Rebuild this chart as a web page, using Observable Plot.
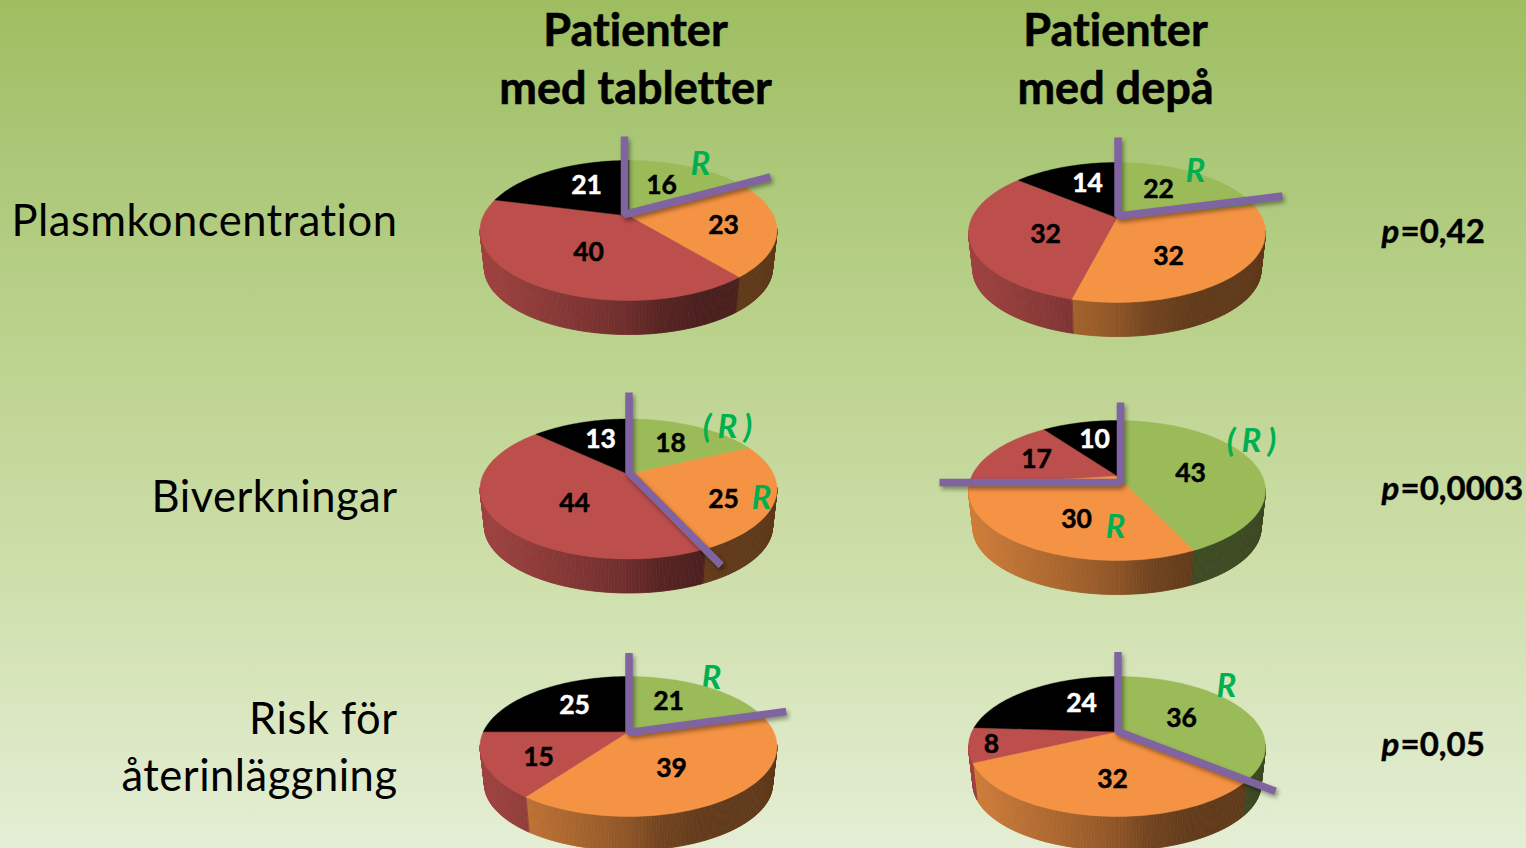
<!DOCTYPE html>
<html lang="sv">
<head>
<meta charset="utf-8">
<title>Patienter med tabletter och depå</title>
<script src="https://cdn.jsdelivr.net/npm/d3@7"></script>
<script src="https://cdn.jsdelivr.net/npm/@observablehq/plot@0.6"></script>
<style>
html,body{margin:0;padding:0;overflow:hidden;background:#d0e0ad}
.hand{filter:drop-shadow(2px 3px 2px rgba(0,0,0,.38))}
svg{display:block}
svg text{font-variant-ligatures:none;font-feature-settings:"liga" 0,"clig" 0}
.note text{letter-spacing:6px}
.rowlabel text{letter-spacing:.5px}
</style>
</head>
<body>
<div id="chart"></div>
<script>
// ---- values (percent per pie, clockwise from 12 o'clock)
const pieNames    = ["Plasm/tabletter","Plasm/depå","Bi/tabletter","Bi/depå","Risk/tabletter","Risk/depå"];
const greenValues  = [16,22,18,43,21,36];
const orangeValues = [23,32,25,30,39,32];
const redValues    = [40,32,44,17,15,8];
const blackValues  = [21,14,13,10,25,24];
const columnTitles = [["Patienter","med tabletter"],["Patienter","med depå"]];
const rowLabels    = [["Plasmkoncentration"],["Biverkningar"],["Risk för","återinläggning"]];
const pValues      = ["=0,42","=0,0003","=0,05"];

// ---- layout
const W = 1526, H = 848;
const pieCx = [628,1116.5,628,1116.5,628,1116.5];
const pieCy = [230,232,488.5,490,746,746];
const RX = 148.5, RY = 70, K = 0.21, DEPTH = 37.5, BX = 0.97, BY = 0.95;
const sliceColors = ["#9bbb59","#f59344","#bc4e4c","#000000"];

// value-label offsets from each pie's centre, same order: green, orange, red, black
const labelOffsets = [
  [[33,-46],[95,-6],[-40,21],[-42,-46]],
  [[41.5,-44],[51.5,23],[-71.5,1],[-29.5,-50]],
  [[42,-46.5],[95,9.5],[-54,13.5],[-28,-50.5]],
  [[73.5,-18],[-40.5,28],[-80.5,-32],[-22.5,-52]],
  [[40,-46],[43,21],[-90,10],[-54,-42]],
  [[64.5,-29],[-4.5,32],[-125.5,-3],[-35.5,-44]]
];
// hand-drawn purple strokes, offsets from each pie's centre
const strokeOffsets = [
  [[-4,-94],[-4,-16],[142,-53.5]],
  [[1,-95],[1,-16.5],[165.5,-36.5]],
  [[0.5,-96.5],[0.5,-16.5],[92.7,76.5]],
  [[3.5,-88],[3.5,-8],[-177.5,-8]],
  [[0.5,-93.5],[0.5,-14],[157.7,-35]],
  [[1,-94.5],[1,-15],[158.5,44.7]]
];
// hand-written green notes: pie, text, offset, behind the pie?
const notes = [
  [0,"R",72,-66,false],[1,"R",78.5,-61,false],
  [2,"(R)",99,-61.5,false],[2,"R",133,9.5,false],
  [3,"(R)",134.5,-49,false],[3,"R",-1.5,37,false],
  [4,"R",83,-68,true],[5,"R",109.5,-60,false]
];

// ---- perspective projection of a circular disc
const S = Math.sqrt(1 - K*K);
function project(i, pct, r = 1) {
  const a = pct/100*2*Math.PI, u = r*Math.sin(a), v = -r*Math.cos(a), w = 1 - K*v;
  return [pieCx[i] + RX*S*u/w, pieCy[i] + RY*((1 - K*K)*(v/w) - K)];
}
const shade = d3.scaleLinear().domain([0,.35,.5,.6,.75,1]).range([.85,.67,.58,.47,.4,.39]);
function sideColor(base, t) {
  const c = d3.rgb(base), f = shade(t);
  return d3.rgb(c.r*f, c.g*f, c.b*f).formatHex();
}

const topPts = [], sidePts = [], valueLabels = [];
pieNames.forEach((name, i) => {
  const vals = [greenValues[i], orangeValues[i], redValues[i], blackValues[i]];
  let start = 0;
  vals.forEach((val, j) => {
    const end = start + val, id = `${i}-${j}`;
    const c = project(i, 0, 0);
    topPts.push({id, x:c[0], y:c[1], c:sliceColors[j]});
    for (let p = start; p < end; p += 0.5) {
      const q = project(i, p);
      topPts.push({id, x:q[0], y:q[1], c:sliceColors[j]});
    }
    const q = project(i, end);
    topPts.push({id, x:q[0], y:q[1], c:sliceColors[j]});
    // side wall as narrow strips
    for (let p = start; p < end; p += 0.25) {
      const p2 = Math.min(end, p + 0.25);
      const A = project(i, p), B = project(i, p2);
      if (Math.max(A[1], B[1]) < pieCy[i] - 1) continue;
      const low = P => [pieCx[i] + (P[0]-pieCx[i])*BX, pieCy[i] + DEPTH + (P[1]-pieCy[i])*BY];
      const A2 = low(A), B2 = low(B);
      const t = ((A[0]+B[0])/2 - (pieCx[i]-RX)) / (2*RX);
      const col = sideColor(sliceColors[j], Math.max(0, Math.min(1, t)));
      [A,B,B2,A2].forEach(P => sidePts.push({id:`${id}-${p}`, x:P[0], y:P[1], c:col}));
    }
    valueLabels.push({
      x: pieCx[i] + labelOffsets[i][j][0], y: pieCy[i] + labelOffsets[i][j][1] + 1,
      text: String(val), c: j === 3 ? "#ffffff" : "#000000"
    });
    start = end;
  });
});
const strokePts = strokeOffsets.flatMap((s,i) => s.map(o => ({id:i, x:pieCx[i]+o[0], y:pieCy[i]+o[1]})));
const noteData = notes.map(n => ({x:pieCx[n[0]]+n[2], y:pieCy[n[0]]+n[3], text:n[1], behind:n[4]}));

const titleData = [
  {x:635, y:31, text:columnTitles[0][0]},{x:635, y:89, text:columnTitles[0][1]},
  {x:1115, y:31, text:columnTitles[1][0]},{x:1115, y:89, text:columnTitles[1][1]}
];
const rowData = [
  {x:397, y:221.5, text:rowLabels[0][0]},{x:397, y:497.5, text:rowLabels[1][0]},
  {x:397, y:719.5, text:rowLabels[2][0]},{x:397, y:776.5, text:rowLabels[2][1]}
];
const pY = [231.5,488.5,744.5];
const pData = pValues.map((t,i) => ({x:1381, y:pY[i], text:t}));

const FONT = "Lato, Carlito, sans-serif";
const noteStyle = {x:"x", y:"y", dx:3, text:"text", fill:"#00b050", fontFamily:FONT, fontSize:33, fontStyle:"italic", fontWeight:700, lineAnchor:"middle", textAnchor:"middle", className:"note"};

const chart = Plot.plot({
  width:W, height:H, margin:0,
  x:{domain:[0,W], range:[0,W], axis:null},
  y:{domain:[0,H], range:[0,H], axis:null},
  color:{type:"identity"},
  style:{background:"linear-gradient(180deg,#9fbe60 0%,#a9c675 16%,#bbd28d 40%,#d0e0ad 70%,#e4eed5 100%)", overflow:"hidden"},
  marks:[
    Plot.text(noteData.filter(d=>d.behind), noteStyle),
    Plot.line(sidePts, {x:"x", y:"y", z:"id", fill:"c", stroke:"c", strokeWidth:0.8, curve:"linear-closed"}),
    Plot.line(topPts, {x:"x", y:"y", z:"id", fill:"c", stroke:"c", strokeWidth:0.4, curve:"linear-closed"}),
    Plot.text(noteData.filter(d=>!d.behind), noteStyle),
    Plot.line(strokePts, {x:"x", y:"y", z:"id", stroke:"#8064a2", strokeWidth:7.5, strokeLinejoin:"miter", strokeLinecap:"butt", curve:"linear", className:"hand"}),
    Plot.text(valueLabels, {x:"x", y:"y", text:"text", fill:"c", stroke:"c", strokeWidth:0.5, fontFamily:FONT, fontWeight:700, fontSize:26.5, lineAnchor:"middle", textAnchor:"middle"}),
    Plot.text(titleData, {x:"x", y:"y", text:"text", fill:"#000", stroke:"#000", strokeWidth:0.6, fontFamily:FONT, fontWeight:700, fontSize:45, lineAnchor:"middle", textAnchor:"middle"}),
    Plot.text(rowData, {x:"x", y:"y", text:"text", fill:"#000", fontFamily:FONT, fontSize:43.5, lineAnchor:"middle", textAnchor:"end", className:"rowlabel"}),
    Plot.text(pData, {x:"x", y:"y", text:()=>"p", fill:"#000", stroke:"#000", strokeWidth:0.4, fontFamily:FONT, fontWeight:700, fontStyle:"italic", fontSize:33, lineAnchor:"middle", textAnchor:"start"}),
    Plot.text(pData, {x:"x", dx:19, y:"y", text:"text", fill:"#000", stroke:"#000", strokeWidth:0.4, fontFamily:FONT, fontWeight:700, fontSize:33, lineAnchor:"middle", textAnchor:"start"})
  ]
});
document.getElementById("chart").append(chart);
</script>
</body>
</html>
